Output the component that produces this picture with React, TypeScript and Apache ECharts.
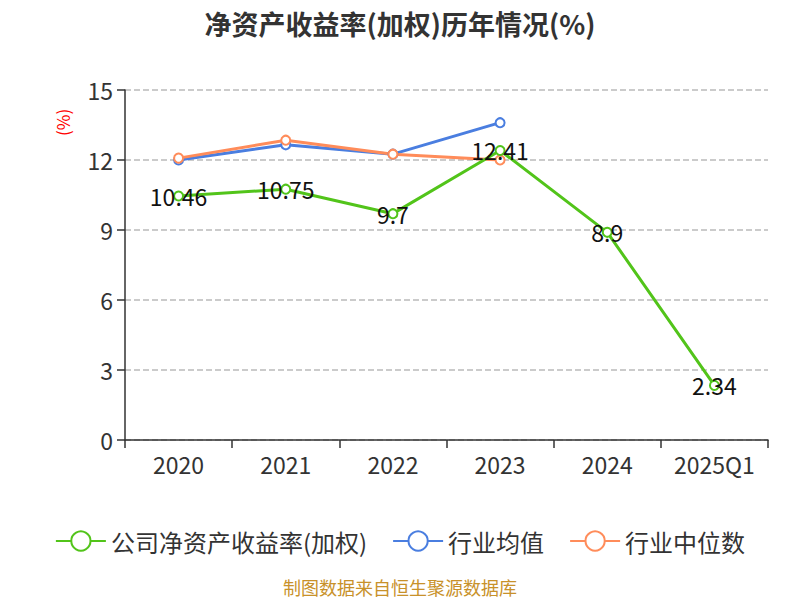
import React, { useEffect, useRef } from "react";
import * as echarts from "echarts";

const categories = ["2020", "2021", "2022", "2023", "2024", "2025Q1"];
const companyROE = [10.46, 10.75, 9.7, 12.41, 8.9, 2.34];
const industryAvg = [12.0, 12.65, 12.25, 13.6];
const industryMedian = [12.08, 12.85, 12.25, 12.0];

const GREEN = "#52c41a";
const BLUE = "#4a7ee0";
const ORANGE = "#ff8c5a";

export default function App() {
  const ref = useRef<HTMLDivElement>(null);
  useEffect(() => {
    if (!ref.current) return;
    const chart = echarts.init(ref.current, undefined, { renderer: "svg" });
    const font = "'Noto Sans CJK SC', 'Noto Sans', sans-serif";
    chart.setOption({
      animation: false,
      textStyle: { fontFamily: font },
      grid: { left: 117, right: 24, top: 82, bottom: 160 },
      legend: {
        top: 516,
        left: "center",
        itemWidth: 50,
        itemHeight: 24,
        itemGap: 25,
        textStyle: { fontSize: 24, color: "#333", fontFamily: font },
        data: ["公司净资产收益率(加权)", "行业均值", "行业中位数"],
      },
      graphic: [
        {
          type: "text",
          x: 392,
          y: 15,
          style: {
            text: "净资产收益率(加权)历年情况(%)",
            textAlign: "center",
            textVerticalAlign: "middle",
            fill: "#333",
            fontSize: 27,
            fontWeight: "bold",
            fontFamily: font,
          },
        },
        {
          type: "text",
          x: 46,
          y: 128,
          rotation: Math.PI / 2,
          style: { text: "(%)", fill: "#ff0000", fontSize: 17, fontFamily: font },
        },
        {
          type: "text",
          left: "center",
          top: 570,
          style: { text: "制图数据来自恒生聚源数据库", fill: "#c8912a", fontSize: 18, fontFamily: font },
        },
      ],
      xAxis: {
        type: "category",
        data: categories,
        boundaryGap: true,
        axisLine: { lineStyle: { color: "#333", width: 1.5 } },
        axisTick: { show: true, length: 8, lineStyle: { color: "#333", width: 1.5 } },
        axisLabel: { fontSize: 23, color: "#333", margin: 12 },
      },
      yAxis: {
        type: "value",
        min: 0,
        max: 15,
        interval: 3,
        axisLine: { show: true, lineStyle: { color: "#333", width: 1.5 } },
        axisTick: { show: true, length: 8, lineStyle: { color: "#333", width: 1.5 } },
        axisLabel: { fontSize: 23, color: "#333", margin: 12 },
        splitLine: { lineStyle: { type: "dashed", color: "#bbb", width: 1.5 } },
      },
      series: [
        {
          name: "公司净资产收益率(加权)",
          type: "line",
          data: companyROE,
          symbol: "emptyCircle",
          symbolSize: 9,
          lineStyle: { color: GREEN, width: 3 },
          itemStyle: { color: GREEN },
          label: {
            show: true,
            position: "inside",
            fontSize: 23,
            color: "#111",
          },
          z: 3,
        },
        {
          name: "行业均值",
          type: "line",
          data: industryAvg,
          symbol: "emptyCircle",
          symbolSize: 9,
          lineStyle: { color: BLUE, width: 3 },
          itemStyle: { color: BLUE },
          z: 2,
        },
        {
          name: "行业中位数",
          type: "line",
          data: industryMedian,
          symbol: "emptyCircle",
          symbolSize: 9,
          lineStyle: { color: ORANGE, width: 3 },
          itemStyle: { color: ORANGE },
          z: 2,
        },
      ],
    });
    return () => chart.dispose();
  }, []);
  return <div ref={ref} style={{ width: 784, height: 592 }} />;
}
